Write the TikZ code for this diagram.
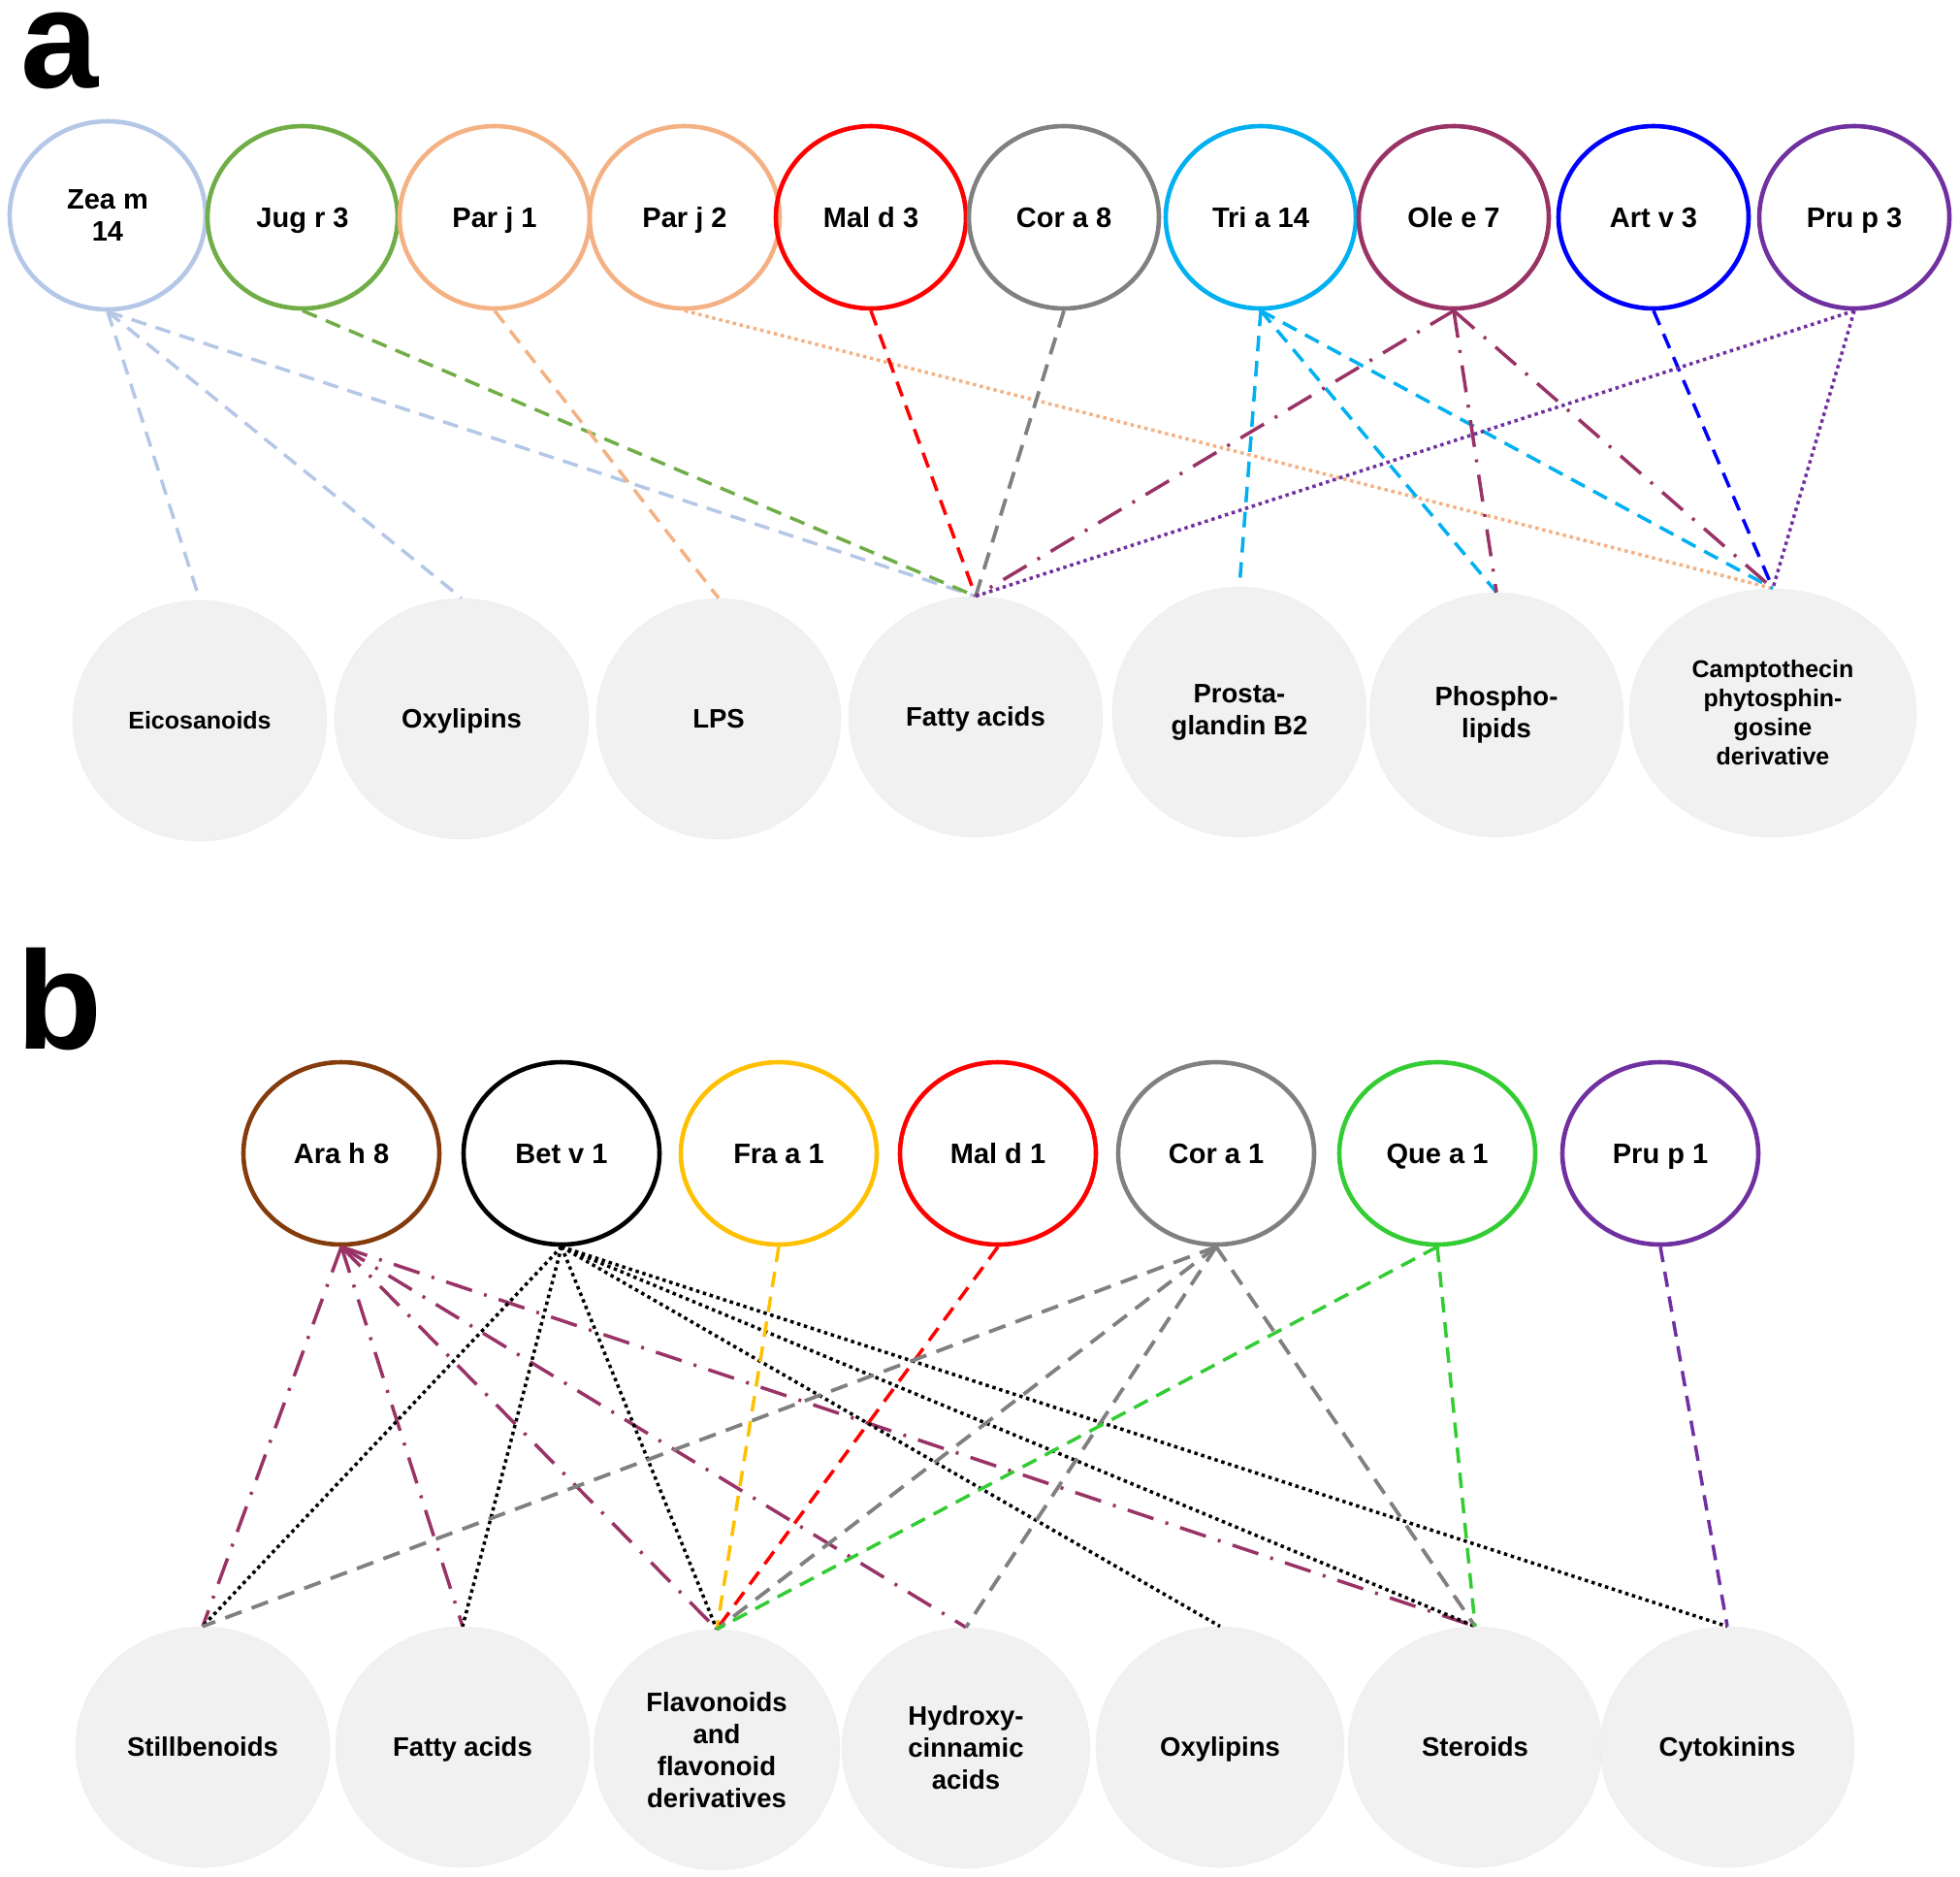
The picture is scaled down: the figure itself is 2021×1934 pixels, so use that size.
\documentclass[tikz,border=0pt]{standalone}
\usepackage{fontspec}
\setmainfont{Liberation Sans}
\usetikzlibrary{shapes.geometric}

\definecolor{zeablue}{RGB}{180,199,231}
\definecolor{juggreen}{RGB}{112,173,71}
\definecolor{parorange}{RGB}{244,177,131}
\definecolor{corgray}{RGB}{128,128,128}
\definecolor{tricyan}{RGB}{0,176,240}
\definecolor{olemaroon}{RGB}{153,51,102}
\definecolor{prupurple}{RGB}{112,48,160}
\definecolor{arabrown}{RGB}{132,60,12}
\definecolor{fragold}{RGB}{255,192,0}
\definecolor{quegreen}{RGB}{51,204,51}
\definecolor{metfill}{RGB}{241,241,241}

\begin{document}
\begin{tikzpicture}[x=0.5pt,y=-0.5pt]
  \tikzstyle{allergen}=[ellipse, draw, line width=2.3pt, inner sep=0pt,
    minimum width=98pt, minimum height=94pt, align=center,
    font=\bfseries\fontsize{14.5}{16.75}\selectfont]
  \tikzstyle{oneline}=[text height=10.4pt, text depth=0pt]
  \tikzstyle{metab}=[ellipse, fill=metfill, draw=black!10, densely dotted,
    line width=0.4pt, inner sep=0pt, minimum width=131pt, minimum height=124pt,
    align=center, font=\bfseries\fontsize{13.75}{16.5}\selectfont]
  \tikzstyle{metone}=[text height=9.8pt, text depth=0pt]
  \tikzstyle{small}=[font=\bfseries\fontsize{12.5}{15}\selectfont]
  \tikzstyle{panel}=[anchor=base west, inner sep=0pt,
    font=\bfseries\fontsize{72}{72}\selectfont]
  \tikzstyle{link}=[line width=1.75pt]
  \tikzstyle{dsh}=[link, dash pattern=on 8pt off 5pt]
  \tikzstyle{dshlong}=[link, line width=1.9pt, dash pattern=on 9pt off 5.5pt]
  \tikzstyle{dts}=[link, dash pattern=on 1.75pt off 1.9pt]
  \tikzstyle{dshdot}=[link, dash pattern=on 14pt off 6.5pt on 1.5pt off 6.5pt]

  \useasboundingbox (0,0) rectangle (2021,1934);

  % ---- a ----
  \node[panel] (lab-a) at (21,90) {a};
  \node[allergen, draw=zeablue, minimum width=101pt, minimum height=97pt]
    (A-1) at (111,222) {Zea m\\14};
  \foreach \i/\x/\c/\t in {2/312/juggreen/Jug r 3,
      3/510/parorange/Par j 1, 4/706/parorange/Par j 2, 5/898/red/Mal d 3,
      6/1097/corgray/Cor a 8, 7/1300/tricyan/Tri a 14, 8/1499/olemaroon/Ole e 7,
      9/1705/blue/Art v 3, 10/1912/prupurple/Pru p 3}
    \node[allergen, oneline, draw=\c] (A-\i) at (\x,224) {\t};

  \node[metab, small, text height=8.9pt, text depth=0pt] (M-1) at (206,743) {Eicosanoids};
  \node[metab, metone] (M-2) at (476,741) {Oxylipins};
  \node[metab, metone, minimum width=126pt] (M-3) at (741,741) {LPS};
  \node[metab, metone] (M-4) at (1006,739) {Fatty acids};
  \node[metab, minimum height=129pt] (M-5) at (1278,734) {Prosta-\\glandin B2};
  \node[metab, minimum height=126pt] (M-6) at (1543,737) {Phospho-\\lipids};
  \node[metab, small, minimum width=148pt, minimum height=128pt]
    (M-7) at (1828,735) {Camptothecin\\phytosphin-\\gosine\\derivative};

  \foreach \m in {1,2,4}
    \draw[dsh, zeablue] (A-1.south) -- (M-\m.north);
  \draw[dsh, juggreen] (A-2.south) -- (M-4.north);
  \draw[dsh, parorange] (A-3.south) -- (M-3.north);
  \draw[dts, parorange] (A-4.south) -- (M-7.north);
  \draw[dsh, red] (A-5.south) -- (M-4.north);
  \draw[dshlong, corgray] (A-6.south) -- (M-4.north);
  \foreach \m in {5,6,7}
    \draw[dsh, tricyan] (A-7.south) -- (M-\m.north);
  \foreach \m in {4,6,7}
    \draw[dshdot, olemaroon] (A-8.south) -- (M-\m.north);
  \draw[dsh, blue] (A-9.south) -- (M-7.north);
  \foreach \m in {4,7}
    \draw[dts, prupurple] (A-10.south) -- (M-\m.north);

  % ---- b ----
  \node[panel] (lab-b) at (17,1081) {b};
  \foreach \i/\x/\c/\t in {1/352/arabrown/Ara h 8, 2/579/black/Bet v 1,
      3/803/fragold/Fra a 1, 4/1029/red/Mal d 1, 5/1254/corgray/Cor a 1,
      6/1482/quegreen/Que a 1, 7/1712/prupurple/Pru p 1}
    \node[allergen, oneline, draw=\c, minimum width=101pt] (B-\i) at (\x,1189) {\t};

  \node[metab, metone] (N-1) at (209,1801) {Stillbenoids};
  \node[metab, metone] (N-2) at (477,1801) {Fatty acids};
  \node[metab, minimum width=127pt] (N-3) at (739,1804) {Flavonoids\\and\\flavonoid\\derivatives};
  \node[metab, minimum width=128pt] (N-4) at (996,1802) {Hydroxy-\\cinnamic\\acids};
  \node[metab, metone, minimum width=128pt] (N-5) at (1258,1801) {Oxylipins};
  \node[metab, metone] (N-6) at (1521,1801) {Steroids};
  \node[metab, metone] (N-7) at (1781,1801) {Cytokinins};

  \foreach \m in {1,2,3,4,6}
    \draw[dshdot, olemaroon] (B-1.south) -- (N-\m.north);
  \foreach \m in {1,2,3,5,6,7}
    \draw[dts, black] (B-2.south) -- (N-\m.north);
  \draw[dsh, fragold] (B-3.south) -- (N-3.north);
  \draw[dsh, red] (B-4.south) -- (N-3.north);
  \foreach \m in {1,3,4,6}
    \draw[dshlong, corgray] (B-5.south) -- (N-\m.north);
  \foreach \m in {3,6}
    \draw[dsh, quegreen] (B-6.south) -- (N-\m.north);
  \draw[dsh, prupurple] (B-7.south) -- (N-7.north);
\end{tikzpicture}
\end{document}
